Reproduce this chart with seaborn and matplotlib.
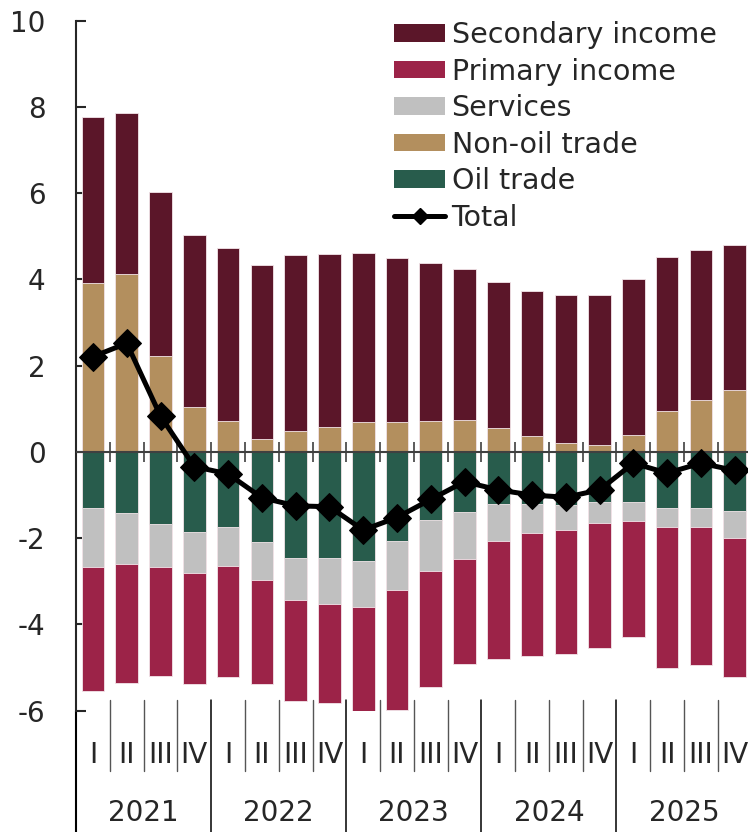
import numpy as np
import pandas as pd
import seaborn as sns
import matplotlib.pyplot as plt
from matplotlib.patches import Patch
from matplotlib.lines import Line2D

sns.set_style("ticks")
plt.rcParams["font.family"] = ["DejaVu Sans"]
plt.rcParams["axes.unicode_minus"] = False

years = ["2021", "2022", "2023", "2024", "2025"]
quarters = ["I", "II", "III", "IV"]

secondary = [3.85, 3.74, 3.80, 3.99, 4.03, 4.05, 4.08, 4.02, 3.92, 3.81,
             3.65, 3.51, 3.39, 3.37, 3.42, 3.50, 3.63, 3.58, 3.47, 3.35]
non_oil = [3.91, 4.12, 2.22, 1.05, 0.71, 0.29, 0.48, 0.57, 0.70, 0.69,
           0.72, 0.73, 0.56, 0.37, 0.21, 0.15, 0.39, 0.95, 1.21, 1.44]
oil = [-1.29, -1.42, -1.67, -1.85, -1.74, -2.09, -2.45, -2.47, -2.53, -2.06,
       -1.57, -1.40, -1.20, -1.20, -1.22, -1.15, -1.15, -1.29, -1.29, -1.37]
services = [-1.38, -1.18, -0.99, -0.95, -0.90, -0.89, -0.98, -1.05, -1.06, -1.13,
            -1.20, -1.09, -0.87, -0.68, -0.58, -0.49, -0.45, -0.44, -0.46, -0.63]
primary = [-2.88, -2.75, -2.53, -2.57, -2.59, -2.41, -2.35, -2.30, -2.45, -2.79,
           -2.69, -2.43, -2.73, -2.84, -2.88, -2.91, -2.68, -3.27, -3.20, -3.21]
total = [2.21, 2.52, 0.83, -0.34, -0.51, -1.06, -1.25, -1.27, -1.81, -1.52,
         -1.10, -0.69, -0.88, -1.00, -1.05, -0.88, -0.26, -0.49, -0.26, -0.43]

colors = {
    "Secondary income": "#5b1629",
    "Primary income": "#9c2348",
    "Services": "#c0c0c0",
    "Non-oil trade": "#b38f5e",
    "Oil trade": "#285c4c",
}

keys = [f"{y} {q}" for y in years for q in quarters]
n = len(keys)
df = pd.DataFrame({"period": keys, "secondary": secondary, "non_oil": non_oil,
                   "oil": oil, "services": services, "primary": primary,
                   "total": total})
df["pos_top"] = df["non_oil"] + df["secondary"]
df["neg_2"] = df["oil"] + df["services"]
df["neg_3"] = df["neg_2"] + df["primary"]

fig = plt.figure(figsize=(7.48, 8.32), dpi=100)
ax = fig.add_axes([76.1 / 748, 1 - 710.7 / 832, 675.5 / 748, 690 / 832])

bw = 0.67
kw = dict(x="period", errorbar=None, width=bw, saturation=1,
          edgecolor="#f3e6ea", linewidth=0.6, ax=ax)
# stacked by overdrawing cumulative heights
sns.barplot(data=df, y="pos_top", color=colors["Secondary income"], **kw)
sns.barplot(data=df, y="non_oil", color=colors["Non-oil trade"], **kw)
sns.barplot(data=df, y="neg_3", color=colors["Primary income"], **kw)
sns.barplot(data=df, y="neg_2", color=colors["Services"], **kw)
sns.barplot(data=df, y="oil", color=colors["Oil trade"], **kw)

ax.axhline(0, color="#404040", lw=1.5, zorder=3)
bounds = np.arange(n - 1) + 0.5
ax.vlines(bounds, -0.23, 0.23, color="#404040", lw=1.2, zorder=3)

sns.lineplot(x=np.arange(n), y=df["total"], color="black", lw=3.6, marker="D",
             markersize=14, markeredgecolor="black", sort=False, ax=ax, zorder=6)

ax.set_xlim(-0.5, n - 0.5)
ax.set_ylim(-6, 10)
ax.set_yticks(range(-6, 11, 2))
ax.set_xticks(range(n))
ax.set_xticklabels([q for y in years for q in quarters])
ax.set_xlabel("")
ax.set_ylabel("")
ax.tick_params(axis="x", length=0, pad=21.5, labelsize=20)
ax.tick_params(axis="y", direction="in", length=7.5, width=1.5, pad=22, labelsize=20)
for s in ["top", "right", "bottom"]:
    ax.spines[s].set_visible(False)
ax.spines["left"].set_linewidth(1.5)

# category separators below the plot
tr = ax.get_xaxis_transform()
y_top = (710.7 - 700) / 690
y_q = (710.7 - 771) / 690
y_bot = (710.7 - 832) / 690
for i, b in enumerate(bounds):
    if (i + 1) % 4 == 0:
        ax.plot([b, b], [y_top, y_bot], color="black", lw=1.1, transform=tr, clip_on=False)
    else:
        ax.plot([b, b], [y_top, y_q], color="#555555", lw=1.0, transform=tr, clip_on=False)
ax.plot([0, 0], [0, y_bot], color="black", lw=1.5, transform=ax.transAxes, clip_on=False)
for k, y in enumerate(years):
    ax.text(4 * k + 1.5, (710.7 - 813) / 690, y, ha="center", va="center",
            fontsize=20, transform=tr)

handles = [Patch(facecolor=colors[c], edgecolor="none") for c in colors]
handles.append(Line2D([], [], color="black", lw=3.6, marker="D", markersize=8))
labels = list(colors) + ["Total"]
fig.legend(handles, labels, loc="upper left", bbox_to_anchor=(394 / 748, 1 - 21 / 832),
           frameon=False, fontsize=20.5, handlelength=1.8, handleheight=0.56,
           handletextpad=0.22, labelspacing=0.30, borderpad=0, borderaxespad=0)

fig.savefig("out.png", dpi=100)
